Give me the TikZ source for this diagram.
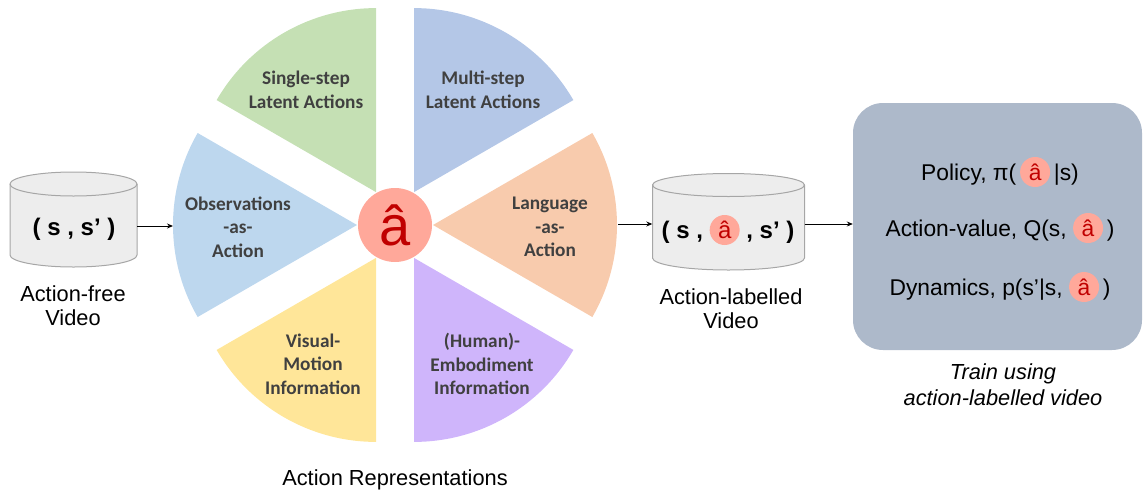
\documentclass[tikz,border=0pt]{standalone}
\usepackage{fontspec}
\setmainfont{Liberation Sans}
\newfontfamily\carlito{Carlito}
\usetikzlibrary{arrows.meta}
\definecolor{wgreen}{HTML}{C5E0B4}
\definecolor{wblue}{HTML}{B4C7E7}
\definecolor{wlblue}{HTML}{BDD7EE}
\definecolor{worange}{HTML}{F8CBAD}
\definecolor{wyellow}{HTML}{FFE699}
\definecolor{wpurple}{HTML}{CFB5FB}
\definecolor{salmon}{HTML}{FFA89A}
\definecolor{ared}{HTML}{C00000}
\definecolor{cylfill}{HTML}{EDEDED}
\definecolor{cylline}{HTML}{A6A6A6}
\definecolor{boxgray}{HTML}{ADB9CA}
\definecolor{wtext}{HTML}{404040}
\newcommand\ahc[1][30]{\tikz[baseline=(h.base)]\node[circle,fill=salmon,text=ared,inner sep=0pt,minimum size=#1pt](h){\fontseries{m}\selectfont â};}
\begin{document}
\begin{tikzpicture}[x=1pt,y=1pt,
  wlabel/.style={align=center,text=wtext,font=\carlito\bfseries\fontsize{19.3}{23.5}\selectfont},
  plainlabel/.style={align=center,font=\fontsize{21.8}{24}\selectfont},
  cyltext/.style={font=\bfseries\fontsize{24}{26}\selectfont},
  boxtext/.style={font=\fontsize{22.8}{24}\selectfont},
  arr/.style={-{Stealth[length=6pt,width=5pt]},line width=0.9pt},
  cyl/.style={fill=cylfill,draw=cylline,line width=1pt}]
\useasboundingbox (0,0) rectangle (1143,-493);

% wheel
\begin{scope}[shift={(395,-225)}]
\foreach \a/\c in {120/wgreen,60/wblue,180/wlblue,0/worange,240/wyellow,300/wpurple}
  \fill[\c] (\a:38) -- ++(\a-30:184) arc[start angle=\a-30,end angle=\a+30,radius=184] -- cycle;
\end{scope}
\node[circle,fill=salmon,text=ared,minimum size=74pt,inner sep=0pt,font=\fontsize{56}{56}\selectfont] (ahat) at (395,-225) {â};

\node[wlabel] (single) at (306,-90) {Single-step\\Latent Actions};
\node[wlabel] (multi) at (483,-90) {Multi-step\\Latent Actions};
\node[wlabel] (obs) at (238,-227) {Observations\\-as-\\Action};
\node[wlabel] (lang) at (550,-227) {Language\\-as-\\Action};
\node[wlabel] (vis) at (313,-364) {Visual-\\Motion\\Information};
\node[wlabel] (hum) at (482,-364) {(Human)-\\Embodiment\\Information};
\node[plainlabel] (rep) at (395,-480) {Action Representations};

% left cylinder
\path[cyl] (10,-184) -- (10,-255) arc[start angle=180,end angle=360,x radius=63.5,y radius=12]
  -- (137,-184) arc[start angle=0,end angle=180,x radius=63.5,y radius=12] -- cycle;
\draw[cylline,line width=1pt] (10,-184) arc[start angle=180,end angle=360,x radius=63.5,y radius=12];
\node[inner sep=0pt,minimum width=127pt,minimum height=95pt] (cylL) at (73.5,-219.5) {};
\node[cyltext] (ltext) at (74,-229) {( s , s’ )};
\node[plainlabel] (llab) at (73,-306) {Action-free\\Video};

% right cylinder
\path[cyl] (652.5,-185) -- (652.5,-258) arc[start angle=180,end angle=360,x radius=76,y radius=12]
  -- (804.5,-185) arc[start angle=0,end angle=180,x radius=76,y radius=11.5] -- cycle;
\draw[cylline,line width=1pt] (652.5,-185) arc[start angle=180,end angle=360,x radius=76,y radius=11.5];
\node[inner sep=0pt,minimum width=152pt,minimum height=96pt] (cylR) at (728.5,-222) {};
\node[cyltext] (rtext) at (728,-230) {( s , \ahc\ , s’ )};
\node[plainlabel] (rlab) at (731,-309) {Action-labelled\\Video};

% box
\node[rounded corners=30pt,fill=boxgray,minimum width=289pt,minimum height=247pt,inner sep=0pt] (box) at (997.5,-226.5) {};
\node[boxtext] (pol) at (1000,-172) {Policy, π(\,\ahc\,|s)};
\node[boxtext] (qv) at (1000,-228) {Action-value, Q(s, \ahc\,)};
\node[boxtext] (dyn) at (1000,-287) {Dynamics, p(s’|s, \ahc\,)};
\node[plainlabel,font=\itshape\fontsize{21.8}{26}\selectfont] (train) at (1003,-385) {Train using\\action-labelled video};

% connectors
\coordinate (wL) at (173,-226);
\coordinate (wR) at (618,-224);
\draw[arr] (cylL.east |- wL) -- (wL);
\draw[arr] (wR) -- (cylR.west |- wR);
\draw[arr] (cylR.east |- wR) -- (box.west |- wR);
\end{tikzpicture}
\end{document}
